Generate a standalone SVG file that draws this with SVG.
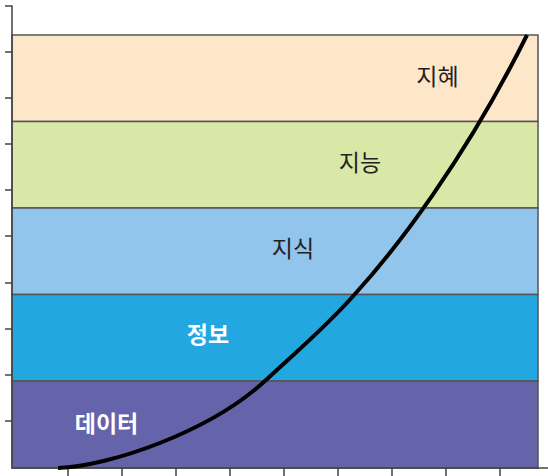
<svg xmlns="http://www.w3.org/2000/svg" width="548" height="476" viewBox="0 0 548 476">
<style>
.band{stroke:#555;stroke-width:1.5}
.axis{stroke:#444;stroke-width:1.5;fill:none}
.lbl{font-family:"Noto Sans CJK KR","Noto Sans",sans-serif;font-size:23px}
.dark{fill:#222}
.light{fill:#fff;font-weight:bold}
</style>
<rect width="548" height="476" fill="#fff"/>
<g id="band-wisdom"><rect class="band" x="12" y="35" width="526" height="86.5" fill="#FEE7C9"/><text class="lbl dark" x="437.5" y="85" text-anchor="middle">지혜</text></g>
<g id="band-intelligence"><rect class="band" x="12" y="121.5" width="526" height="86.5" fill="#D9E7A7"/><text class="lbl dark" x="360" y="171" text-anchor="middle">지능</text></g>
<g id="band-knowledge"><rect class="band" x="12" y="208" width="526" height="86.5" fill="#92C5EB"/><text class="lbl dark" x="293" y="257" text-anchor="middle">지식</text></g>
<g id="band-information"><rect class="band" x="12" y="294.5" width="526" height="86.5" fill="#22A7E0"/><text class="lbl light" x="208" y="343" text-anchor="middle">정보</text></g>
<g id="band-data"><rect class="band" x="12" y="381" width="526" height="87" fill="#6563AA"/><text class="lbl light" x="106.5" y="432" text-anchor="middle">데이터</text></g>
<g id="axes">
<path class="axis" d="M5 6H12V468H548"/>
<path class="axis" d="M5 52H12M5 98H12M5 144H12M5 190H12M5 236H12M5 283H12M5 329H12M5 375H12M5 421H12"/>
<path class="axis" d="M68 468V476M122 468V476M176 468V476M230 468V476M284 468V476M338 468V476M392 468V476M446 468V476M500 468V476"/>
</g>
<g id="connectors">
<path d="M58 468C110 466 210 432 266 380C296 352 325 328 355 294C395 250 465 160 527 35" fill="none" stroke="#000" stroke-width="4"/>
</g>
</svg>
